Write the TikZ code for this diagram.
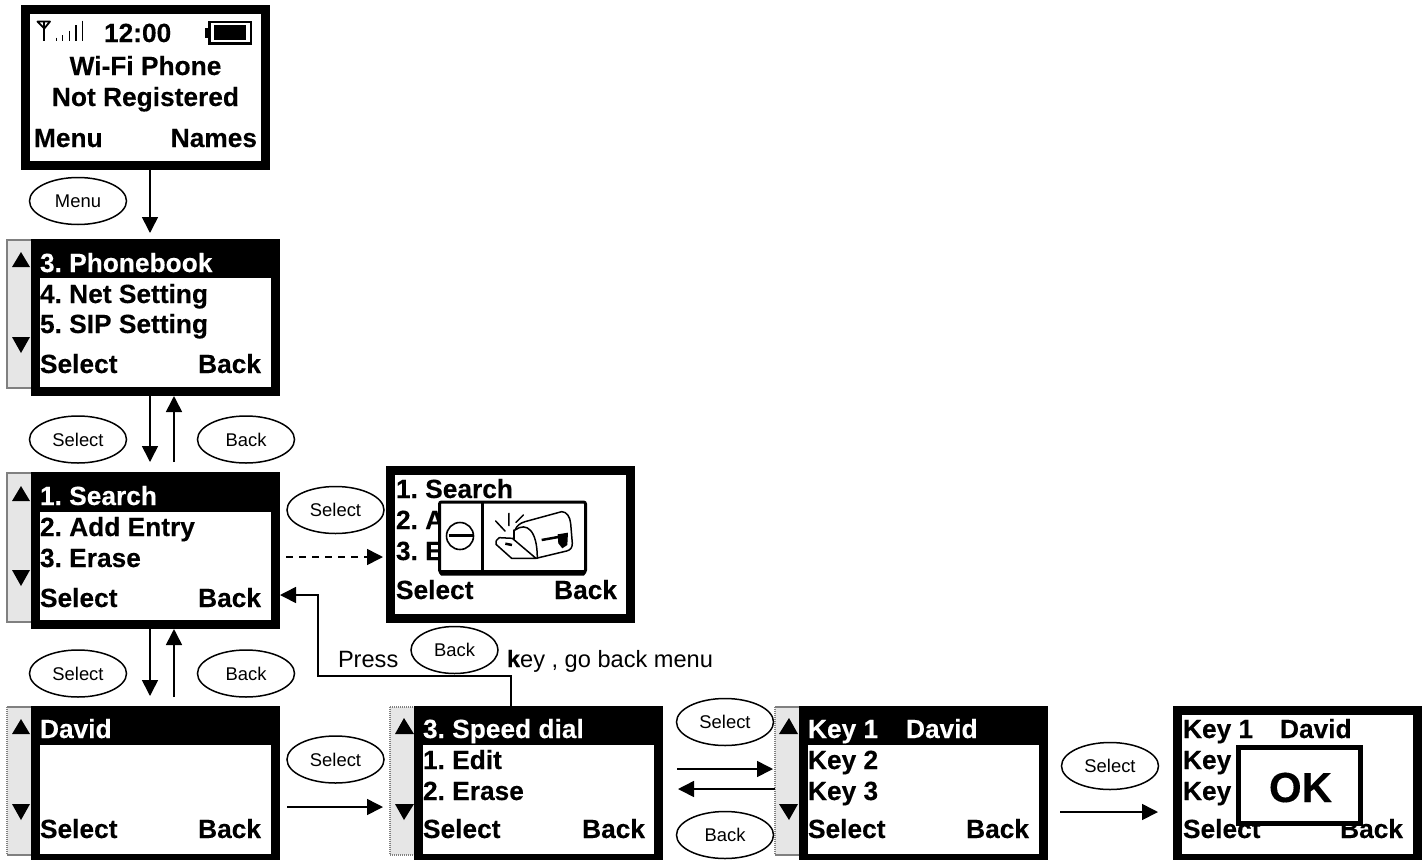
\documentclass[tikz,border=0pt]{standalone}
\usepackage{fontspec}
\setmainfont[BoldFeatures={FakeBold=0.25}]{Liberation Sans}
\usetikzlibrary{arrows.meta,shapes.geometric}
\definecolor{barfill}{HTML}{E6E6E6}
\definecolor{barline}{HTML}{808080}
\tikzset{
  scr/.style={fill=black,inner sep=0pt,outer sep=0pt,minimum width=249pt},
  panel/.style={fill=white},
  lcd/.style={font=\fontsize{26.3}{26.3}\selectfont\bfseries,anchor=base west,inner sep=0pt,outer sep=0pt},
  lcdr/.style={lcd,anchor=base east},
  lcdc/.style={lcd,anchor=base},
  hdr/.style={lcd,text=white},
  key/.style={ellipse,draw,line width=1.5pt,fill=white,inner sep=0pt,minimum width=97pt,minimum height=47pt,font=\fontsize{18.4}{18.4}\selectfont,text=black},
  arr/.style={line width=1.6pt,-{Triangle[length=16pt,width=16pt]}},
  note/.style={font=\fontsize{23.6}{23.6}\selectfont,anchor=base west,inner sep=0pt,outer sep=0pt,text=black},
  tri/.style={fill=black},
  bar/.style={fill=barfill},
  edge/.style={draw=barline,line width=1.5pt},
  dotedge/.style={draw=barline,line width=2pt,dash pattern=on 1pt off 1pt},
  icon/.style={line width=1.5pt,line join=round,line cap=round}
}
\begin{document}
\begin{tikzpicture}[x=1pt,y=-1pt]
\frenchspacing
\useasboundingbox (0,0) rectangle (1427,860);

% ---------- scroll bars
\fill[bar] (7,240) rectangle (31,388);
\draw[edge] (31,240) -- (7,240) -- (7,388) -- (31,388);
\fill[tri] (21,252) -- (12,267) -- (30,267) -- cycle;
\fill[tri] (21,353) -- (12,337) -- (30,337) -- cycle;

\fill[bar] (7,473) rectangle (31,622);
\draw[edge] (31,473) -- (7,473) -- (7,622) -- (31,622);
\fill[tri] (21,486) -- (12,501) -- (30,501) -- cycle;
\fill[tri] (21,586) -- (12,570) -- (30,570) -- cycle;

\fill[bar] (7,707) rectangle (31,855);
\draw[dotedge] (7,707) -- (7,855);
\draw[edge] (7,707) -- (31,707) (7,855) -- (31,855);
\fill[tri] (21,719) -- (12,734) -- (30,734) -- cycle;
\fill[tri] (21,820) -- (12,804) -- (30,804) -- cycle;

\fill[bar] (390,707) rectangle (414,855);
\draw[dotedge] (390,707) -- (390,855) (390,707) -- (414,707) (390,855) -- (414,855);
\fill[tri] (404,718) -- (395,734) -- (414,734) -- cycle;
\fill[tri] (404,820) -- (395,804) -- (414,804) -- cycle;

\fill[bar] (775,707) rectangle (799,855);
\draw[dotedge] (775,707) -- (775,855);
\draw[edge] (775,707) -- (799,707) (775,855) -- (799,855);
\fill[tri] (789,718) -- (779,734) -- (798,734) -- cycle;
\fill[tri] (789,820) -- (779,804) -- (798,804) -- cycle;

% ---------- screens
\node[scr,minimum height=165pt] (s1) at (145.5,87.5) {};
\fill[panel] (30,14) rectangle (261,161);
\node[scr,minimum height=157pt] (s2) at (155.5,317.5) {};
\fill[panel] (40,278) rectangle (271,387);
\node[scr,minimum height=157pt] (s3) at (155.5,550.5) {};
\fill[panel] (40,512) rectangle (271,620);
\node[scr,minimum height=157pt] (s4) at (510.5,544.5) {};
\fill[panel] (395,475) rectangle (626,614);
\node[scr,minimum height=154pt] (s5) at (155.5,783) {};
\fill[panel] (40,745) rectangle (271,854);
\node[scr,minimum height=154pt] (s6) at (538.5,783) {};
\fill[panel] (423,745) rectangle (654,854);
\node[scr,minimum height=154pt] (s7) at (923.5,783) {};
\fill[panel] (808,745) rectangle (1039,854);
\node[scr,minimum height=154pt] (s8) at (1297.5,783) {};
\fill[panel] (1182,715) rectangle (1413,854);

% ---------- screen 1
\node[lcd] (clock) at (104,42) {12:00};
\node[lcdc] (wifi) at (145.5,75) {Wi-Fi Phone};
\node[lcdc] (notreg) at (145.5,106) {Not Registered};
\node[lcd] (menu1) at (34,147) {Menu};
\node[lcdr] (names) at (257,147) {Names};
% signal icon
\draw[line width=1.8pt,line join=round] (37.5,21.5) -- (50,21.5) -- (44.3,28.5) -- cycle;
\draw[line width=1.8pt] (44.3,21) -- (44.3,41);
\draw[line width=1.5pt] (56.7,37.5) -- (56.7,41) (62.5,35) -- (62.5,41) (69.5,30.5) -- (69.5,41) (76,25) -- (76,41) (82.3,20.5) -- (82.3,41);
% battery icon
\fill (205,28) rectangle (209,38);
\fill (208,20.5) rectangle (252,44.5);
\fill[white] (211,23) rectangle (250,42);
\fill (214,25) rectangle (246,39.5);

% ---------- screen 2
\node[hdr] (p3) at (40,272) {3. Phonebook};
\node[lcd] (p4) at (40,303) {4. Net Setting};
\node[lcd] (p5) at (40,333) {5. SIP Setting};
\node[lcd] (p6) at (40,373) {Select};
\node[lcdr] (p7) at (261,373) {Back};

% ---------- screen 3
\node[hdr] (q1) at (40,505) {1. Search};
\node[lcd] (q2) at (40,536) {2. Add Entry};
\node[lcd] (q3) at (40,567) {3. Erase};
\node[lcd] (q4) at (40,607) {Select};
\node[lcdr] (q5) at (261,607) {Back};

% ---------- screen 4 with popup
\node[lcd] (r1) at (396,498) {1. Search};
\node[lcd] (r2) at (396,529) {2. A};
\node[lcd] (r3) at (396,560) {3. E};
\node[lcd] (r4) at (396,599) {Select};
\node[lcdr] (r5) at (617,599) {Back};
\node[draw,fill=white,line width=3pt,rounded corners=2pt,inner sep=0pt,minimum width=146pt,minimum height=70pt] (pop) at (512.5,537) {};
\fill (439,570) -- (586,570) -- (586,573) -- (584,575.5) -- (441,575.5) -- (439,573) -- cycle;
\draw[line width=3pt] (482,502) -- (482,572);
\node[circle,draw,line width=1.6pt,inner sep=0pt,minimum size=27pt] (nogo) at (460,536) {};
\draw[line width=3pt] (448.5,535.5) -- (472.5,535.5);
\begin{scope}[shift={(430,495)},x=.3333pt,y=-.3333pt]
  \draw[icon] (197,78) -- (225,108) (237,55) -- (237,92) (280,60) -- (258,82);
  \draw[icon] (255,105) .. controls (262,90) and (270,85) .. (285,80) -- (395,50) .. controls (410,50) and (420,65) .. (422,85) -- (427,145) .. controls (427,160) and (420,165) .. (410,168) -- (318,190);
  \draw[icon] (255,105) .. controls (290,80) and (322,105) .. (322,190);
  \draw[icon] (208,128) -- (247,130) -- (318,190) -- (245,190) -- (198,148) .. controls (195,140) and (200,132) .. (208,128);
  \draw[icon] (252,105) -- (252,133);
  \draw[line width=2.5pt] (226,146) -- (246,150);
  \draw[line width=2.5pt] (335,135) -- (385,126);
  \fill (383,118) -- (414,113) -- (412,150) -- (397,160) -- (385,145) -- cycle;
\end{scope}

% ---------- screen 5
\node[hdr] (d1) at (40,738) {David};
\node[lcd] (d2) at (40,838) {Select};
\node[lcdr] (d3) at (261,838) {Back};

% ---------- screen 6
\node[hdr] (e1) at (423,738) {3. Speed dial};
\node[lcd] (e2) at (423,769) {1. Edit};
\node[lcd] (e3) at (423,800) {2. Erase};
\node[lcd] (e4) at (423,838) {Select};
\node[lcdr] (e5) at (645,838) {Back};

% ---------- screen 7
\node[hdr] (f1) at (808,738) {Key 1};
\node[hdr] (f2) at (906,738) {David};
\node[lcd] (f3) at (808,769) {Key 2};
\node[lcd] (f4) at (808,800) {Key 3};
\node[lcd] (f5) at (808,838) {Select};
\node[lcdr] (f6) at (1029,838) {Back};

% ---------- screen 8 with OK box
\node[lcd] (g1) at (1183,738) {Key 1};
\node[lcd] (g2) at (1280,738) {David};
\node[lcd] (g3) at (1183,769) {Key};
\node[lcd] (g4) at (1183,800) {Key};
\node[lcd] (g5) at (1183,838) {Select};
\node[lcdr] (g6) at (1403,838) {Back};
\node[draw,fill=white,line width=5pt,inner sep=0pt,minimum width=122pt,minimum height=76pt] (okbox) at (1299.5,785.5) {};
\node[lcdc,font=\fontsize{42}{42}\selectfont\bfseries] (oktext) at (1300.5,802) {OK};

% ---------- key ellipses
\node[key] (kmenu) at (78,201) {Menu};
\node[key] (ksel1) at (78,439.5) {Select};
\node[key] (kback1) at (246,439.5) {Back};
\node[key] (ksel2) at (335.5,510) {Select};
\node[key] (ksel3) at (78,673.5) {Select};
\node[key] (kback2) at (246,673.5) {Back};
\node[key] (ksel4) at (335.5,759.5) {Select};
\node[key,minimum width=87pt] (kback3) at (454.5,650) {Back};
\node[key] (ksel5) at (725,722) {Select};
\node[key] (kback4) at (725,835) {Back};
\node[key] (ksel6) at (1110,766) {Select};

% ---------- free connector ends
\coordinate (c1) at (150,233);
\coordinate (c2) at (150,462);
\coordinate (c3) at (174,462);
\coordinate (c4) at (150,696);
\coordinate (c5) at (174,697);
\coordinate (c6a) at (286,557);
\coordinate (c6b) at (383,557);
\coordinate (c7a) at (287,807);
\coordinate (c7b) at (383,807);
\coordinate (c8a) at (677,769);
\coordinate (c8b) at (773,769);
\coordinate (c9a) at (775,789);
\coordinate (c9b) at (678,789);
\coordinate (c10a) at (1060,812);
\coordinate (c10b) at (1158,812);
\coordinate (b1) at (511,676);
\coordinate (b2) at (318,676);
\coordinate (b3) at (318,595);

% ---------- connectors
\draw[arr] (s1.south -| c1) -- (c1);
\draw[arr] (s2.south -| c2) -- (c2);
\draw[arr] (c3) -- (s2.south -| c3);
\draw[arr] (s3.south -| c4) -- (c4);
\draw[arr] (c5) -- (s3.south -| c5);
\draw[arr,dash pattern=on 7pt off 6pt] (c6a) -- (c6b);
\draw[arr] (c7a) -- (c7b);
\draw[arr] (c8a) -- (c8b);
\draw[arr] (c9a) -- (c9b);
\draw[arr] (c10a) -- (c10b);
\draw[arr,line join=miter] (s6.north -| b1) -- (b1) -- (b2) -- (b3) -- (s3.east |- b3);

% ---------- note
\node[note] (press) at (338,667) {Press};
\node[note] (keyword) at (507,667) {\textbf{k}ey , go back menu};
\end{tikzpicture}
\end{document}
